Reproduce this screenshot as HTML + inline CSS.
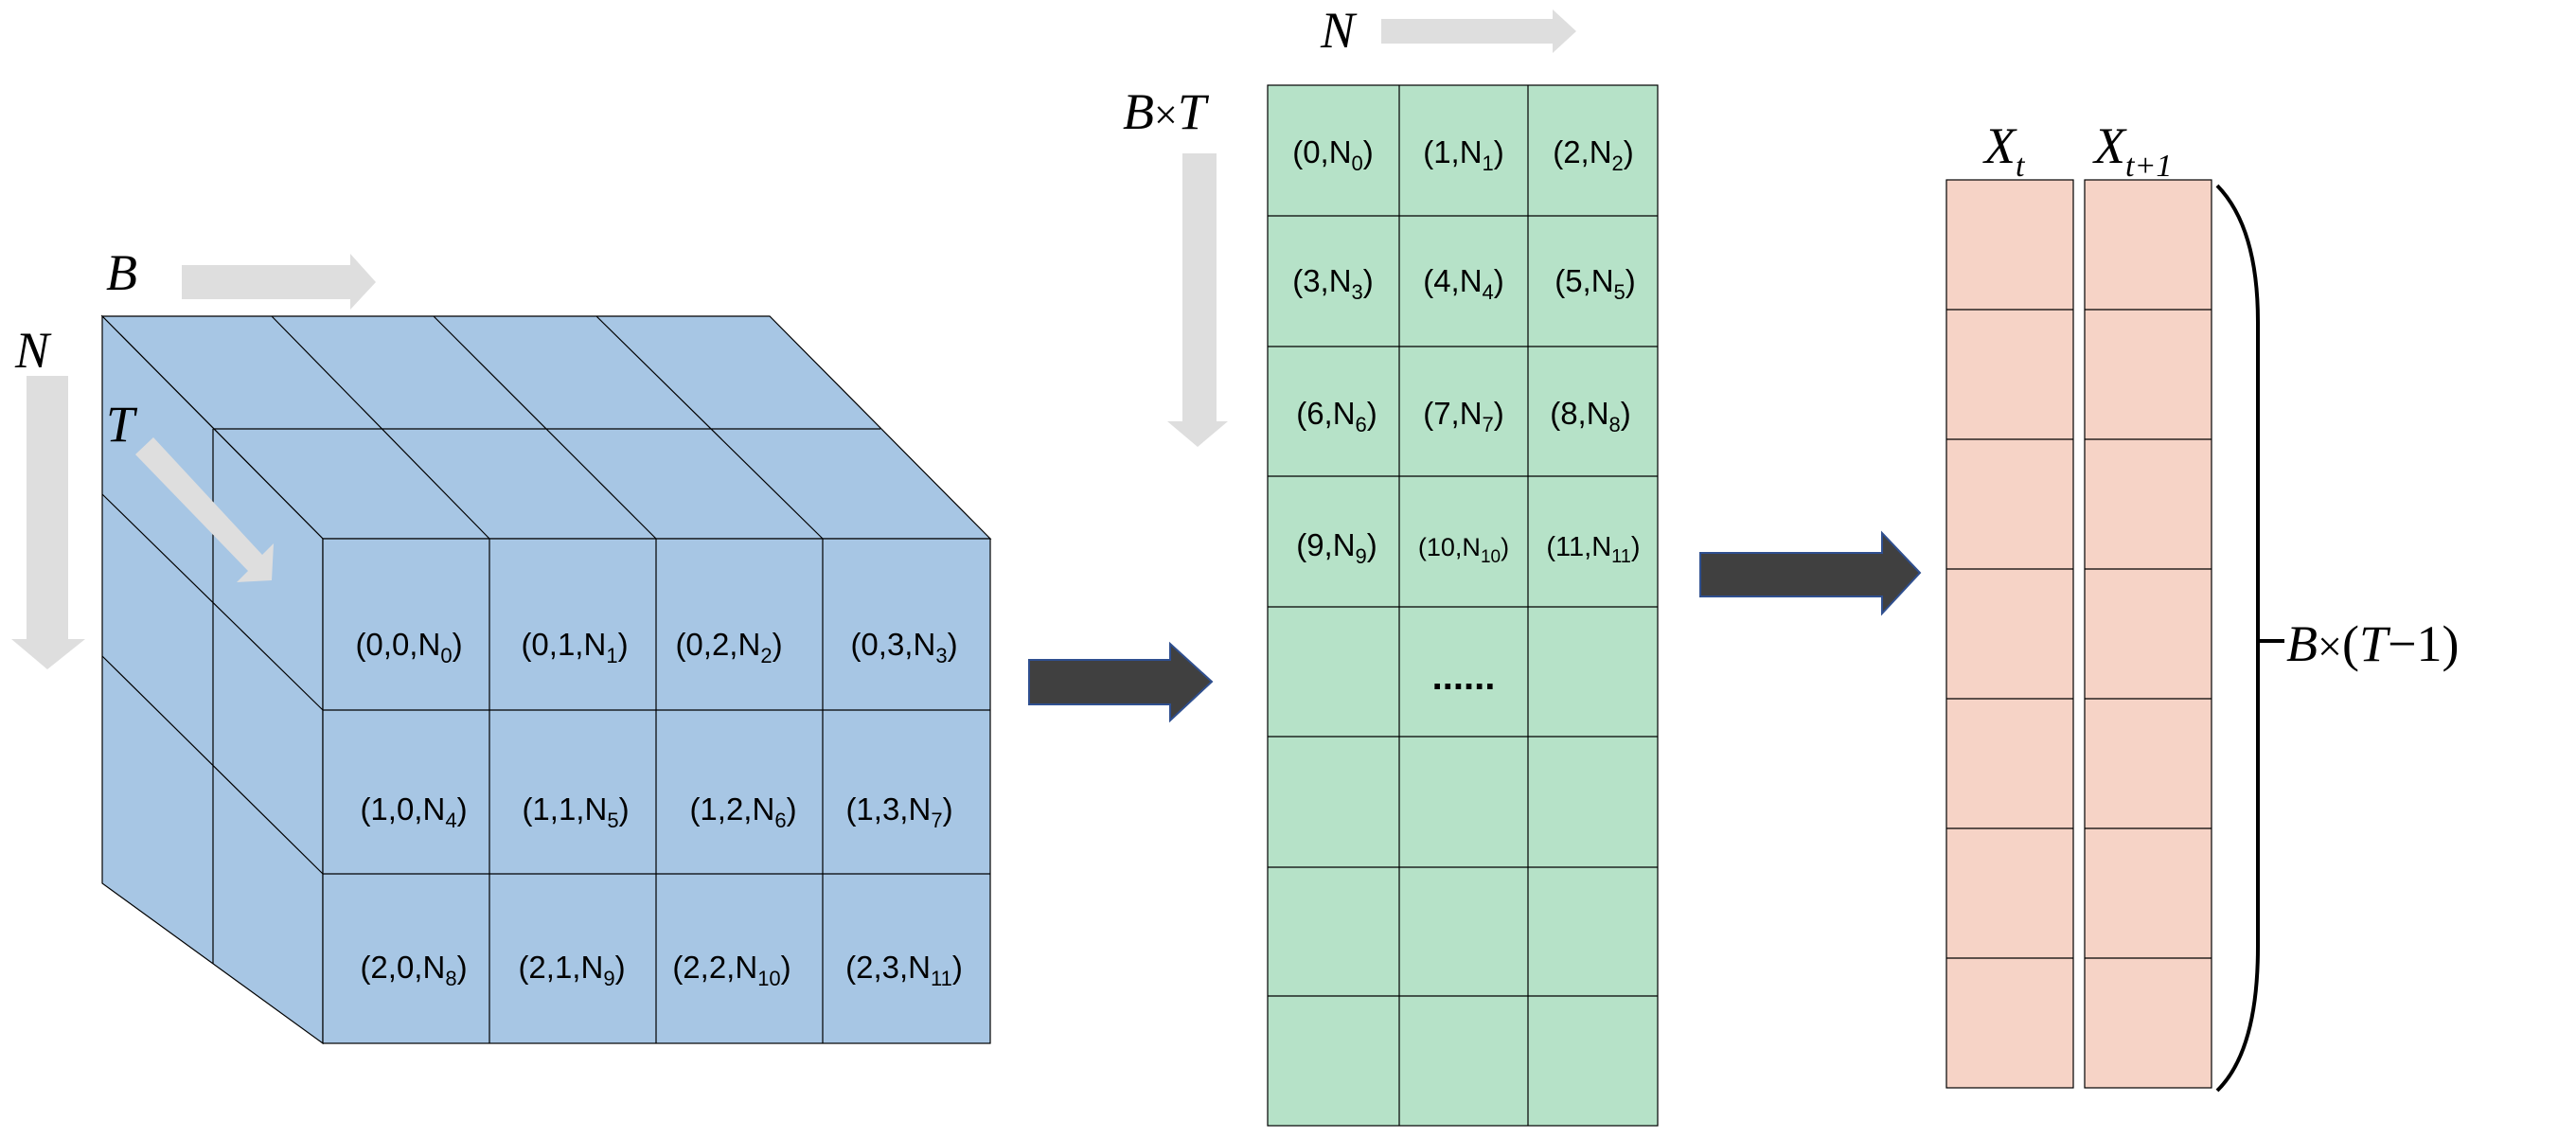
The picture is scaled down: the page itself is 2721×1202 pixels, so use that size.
<!DOCTYPE html>
<html><head><meta charset="utf-8"><style>
html,body{margin:0;padding:0;background:#fff;}
svg{display:block}
.c{font-family:"Liberation Sans",sans-serif;font-size:33px;fill:#000;text-anchor:middle}
.m{font-family:"Liberation Serif",serif;font-style:italic;font-size:54px;fill:#000}
</style></head><body>
<svg width="2721" height="1202" viewBox="0 0 2721 1202" xmlns="http://www.w3.org/2000/svg">
<g stroke="#000" stroke-width="1.2" fill="#a7c6e4">
<!-- top face -->
<polygon points="108,334 813,334 1046,569 341,569"/>
<!-- side face -->
<polygon points="108,334 341,569 341,1102 108,933"/>
<!-- front face -->
<rect x="341" y="569" width="705" height="533"/>
</g>
<g stroke="#000" stroke-width="1.2" fill="none">
<line x1="287" y1="334" x2="517" y2="569"/>
<line x1="458" y1="334" x2="693" y2="569"/>
<line x1="630" y1="334" x2="869" y2="569"/>
<line x1="225" y1="453" x2="930" y2="453"/>
<line x1="225" y1="453" x2="225" y2="1018"/>
<line x1="108" y1="522" x2="341" y2="750"/>
<line x1="108" y1="693" x2="341" y2="923"/>
<line x1="517" y1="569" x2="517" y2="1102"/>
<line x1="693" y1="569" x2="693" y2="1102"/>
<line x1="869" y1="569" x2="869" y2="1102"/>
<line x1="341" y1="750" x2="1046" y2="750"/>
<line x1="341" y1="923" x2="1046" y2="923"/>
</g>
<g class="c">
<text x="432" y="692">(0,0,N<tspan font-size="22" dy="8">0</tspan><tspan dy="-8">)</tspan></text>
<text x="607" y="692">(0,1,N<tspan font-size="22" dy="8">1</tspan><tspan dy="-8">)</tspan></text>
<text x="770" y="692">(0,2,N<tspan font-size="22" dy="8">2</tspan><tspan dy="-8">)</tspan></text>
<text x="955" y="692">(0,3,N<tspan font-size="22" dy="8">3</tspan><tspan dy="-8">)</tspan></text>
<text x="437" y="866">(1,0,N<tspan font-size="22" dy="8">4</tspan><tspan dy="-8">)</tspan></text>
<text x="608" y="866">(1,1,N<tspan font-size="22" dy="8">5</tspan><tspan dy="-8">)</tspan></text>
<text x="785" y="866">(1,2,N<tspan font-size="22" dy="8">6</tspan><tspan dy="-8">)</tspan></text>
<text x="950" y="866">(1,3,N<tspan font-size="22" dy="8">7</tspan><tspan dy="-8">)</tspan></text>
<text x="437" y="1033">(2,0,N<tspan font-size="22" dy="8">8</tspan><tspan dy="-8">)</tspan></text>
<text x="604" y="1033">(2,1,N<tspan font-size="22" dy="8">9</tspan><tspan dy="-8">)</tspan></text>
<text x="773" y="1033">(2,2,N<tspan font-size="22" dy="8">10</tspan><tspan dy="-8">)</tspan></text>
<text x="955" y="1033">(2,3,N<tspan font-size="22" dy="8">11</tspan><tspan dy="-8">)</tspan></text>
</g>
<!-- grey arrows -->
<g fill="#dedede">
<polygon points="192,280 370,280 370,268 397,298 370,327 370,316 192,316"/>
<polygon points="28,397 72,397 72,675 90,675 50,707 12,675 28,675"/>
<polygon points="162,462 277,586 289,574 287,613 250,615 262,603 143,480"/>
<polygon points="1459,20 1640,20 1640,10 1665,33 1640,56 1640,46 1459,46"/>
<polygon points="1249,162 1285,162 1285,445 1297,445 1265,472 1233,445 1249,445"/>
</g>
<text class="m" x="112" y="306">B</text>
<text class="m" x="16" y="388">N</text>
<text class="m" x="112" y="466">T</text>
<!-- dark arrows -->
<polygon points="1087,697 1236,697 1236,680 1280,720 1236,761 1236,744 1087,744" fill="#404040" stroke="#2f4f8f" stroke-width="2"/>
<polygon points="1796,584 1988,584 1988,563 2028,605 1988,648 1988,630 1796,630" fill="#404040" stroke="#2f4f8f" stroke-width="2"/>
<!-- green grid -->
<g stroke="#000" stroke-width="1.2">
<rect x="1339" y="90" width="412" height="1099" fill="#b6e2c8"/>
<line x1="1478" y1="90" x2="1478" y2="1189"/>
<line x1="1614" y1="90" x2="1614" y2="1189"/>
<line x1="1339" y1="228" x2="1751" y2="228"/>
<line x1="1339" y1="366" x2="1751" y2="366"/>
<line x1="1339" y1="503" x2="1751" y2="503"/>
<line x1="1339" y1="641" x2="1751" y2="641"/>
<line x1="1339" y1="778" x2="1751" y2="778"/>
<line x1="1339" y1="916" x2="1751" y2="916"/>
<line x1="1339" y1="1052" x2="1751" y2="1052"/>
</g>
<g class="c">
<text x="1408" y="172">(0,N<tspan font-size="22" dy="8">0</tspan><tspan dy="-8">)</tspan></text>
<text x="1546" y="172">(1,N<tspan font-size="22" dy="8">1</tspan><tspan dy="-8">)</tspan></text>
<text x="1683" y="172">(2,N<tspan font-size="22" dy="8">2</tspan><tspan dy="-8">)</tspan></text>
<text x="1408" y="308">(3,N<tspan font-size="22" dy="8">3</tspan><tspan dy="-8">)</tspan></text>
<text x="1546" y="308">(4,N<tspan font-size="22" dy="8">4</tspan><tspan dy="-8">)</tspan></text>
<text x="1685" y="308">(5,N<tspan font-size="22" dy="8">5</tspan><tspan dy="-8">)</tspan></text>
<text x="1412" y="448">(6,N<tspan font-size="22" dy="8">6</tspan><tspan dy="-8">)</tspan></text>
<text x="1546" y="448">(7,N<tspan font-size="22" dy="8">7</tspan><tspan dy="-8">)</tspan></text>
<text x="1680" y="448">(8,N<tspan font-size="22" dy="8">8</tspan><tspan dy="-8">)</tspan></text>
<text x="1412" y="587">(9,N<tspan font-size="22" dy="8">9</tspan><tspan dy="-8">)</tspan></text>
<text x="1546" y="587" font-size="27">(10,N<tspan font-size="19" dy="7">10</tspan><tspan dy="-7">)</tspan></text>
<text x="1683" y="587" font-size="29">(11,N<tspan font-size="20" dy="7">11</tspan><tspan dy="-7">)</tspan></text>
</g>
<text x="1546" y="728" font-family="Liberation Sans,sans-serif" font-size="40" font-weight="bold" text-anchor="middle">......</text>
<text class="m" x="1395" y="50">N</text>
<text class="m" x="1186" y="136">B<tspan font-style="normal" font-size="44">×</tspan>T</text>
<!-- pink columns -->
<g stroke="#000" stroke-width="1.2" fill="#f6d3c6">
<rect x="2056" y="190" width="134" height="959"/>
<rect x="2202" y="190" width="134" height="959"/>
</g>
<g stroke="#000" stroke-width="1.2">
<line x1="2056" y1="327" x2="2190" y2="327"/><line x1="2202" y1="327" x2="2336" y2="327"/>
<line x1="2056" y1="464" x2="2190" y2="464"/><line x1="2202" y1="464" x2="2336" y2="464"/>
<line x1="2056" y1="601" x2="2190" y2="601"/><line x1="2202" y1="601" x2="2336" y2="601"/>
<line x1="2056" y1="738" x2="2190" y2="738"/><line x1="2202" y1="738" x2="2336" y2="738"/>
<line x1="2056" y1="875" x2="2190" y2="875"/><line x1="2202" y1="875" x2="2336" y2="875"/>
<line x1="2056" y1="1012" x2="2190" y2="1012"/><line x1="2202" y1="1012" x2="2336" y2="1012"/>
</g>
<text class="m" x="2096" y="172">X<tspan font-size="34" dy="14">t</tspan></text>
<text class="m" x="2212" y="172">X<tspan font-size="34" dy="14">t+1</tspan></text>
<!-- brace -->
<path d="M2342,196 Q2385,240 2385,340 L2385,1000 Q2385,1110 2342,1152" fill="none" stroke="#000" stroke-width="4"/>
<line x1="2385" y1="677" x2="2413" y2="677" stroke="#000" stroke-width="4"/>
<text class="m" x="2415" y="698" font-size="58">B<tspan font-style="normal" font-size="46">×</tspan><tspan font-style="normal">(</tspan>T<tspan font-style="normal">−1)</tspan></text>
</svg>
</body></html>
